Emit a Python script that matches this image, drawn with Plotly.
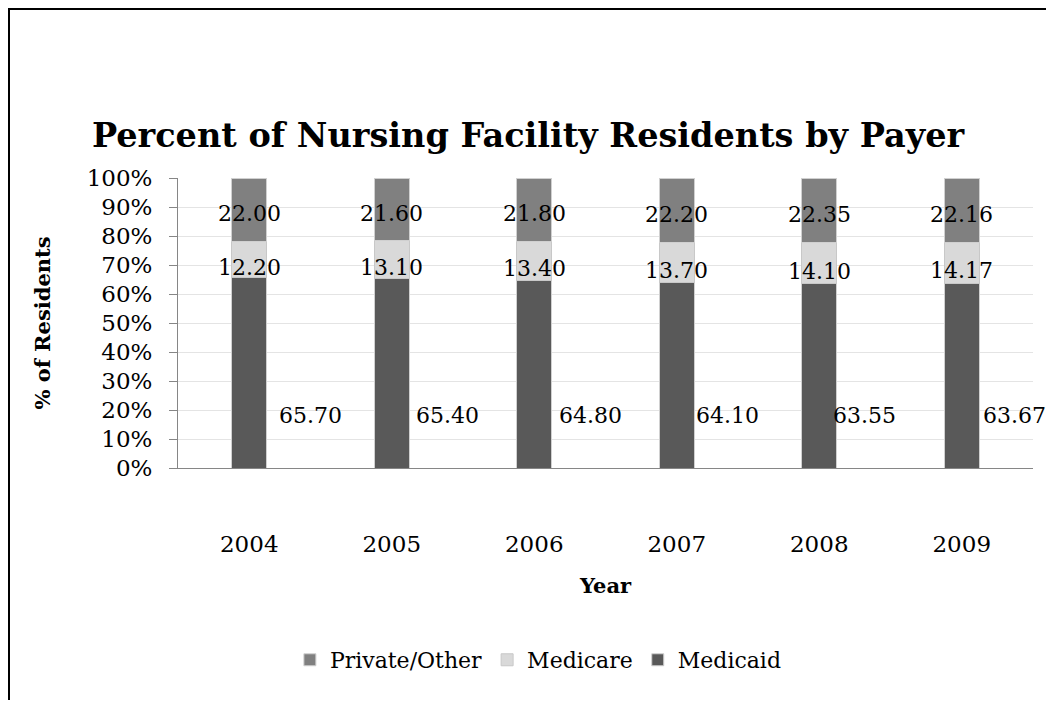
import plotly.graph_objects as go

years = ["2004", "2005", "2006", "2007", "2008", "2009"]
private_other = [22.00, 21.60, 21.80, 22.20, 22.35, 22.16]
medicare = [12.20, 13.10, 13.40, 13.70, 14.10, 14.17]
medicaid = [65.70, 65.40, 64.80, 64.10, 63.55, 63.67]

FONT = "DejaVu Serif"
GRAY_AXIS = "#868686"
LABEL_FONT = dict(family=FONT, size=22, color="black")
# Excel put the Medicaid labels beside the bars, each nudged a little differently
medicaid_label_shift = [61, 56, 56, 51, 45, 53]

fig = go.Figure()

# stacked bottom -> top: Medicaid, Medicare, Private/Other (100% stacked like Excel)
fig.add_trace(go.Bar(x=years, y=medicaid, name="Medicaid", marker_color="#595959",
                     marker_line=dict(color="#d0d0d0", width=1)))
fig.add_trace(go.Bar(x=years, y=medicare, name="Medicare", marker_color="#d9d9d9",
                     marker_line=dict(color="#c8c8c8", width=1)))
fig.add_trace(go.Bar(x=years, y=private_other, name="Private/Other", marker_color="#808080",
                     marker_line=dict(color="#d0d0d0", width=1)))

# data labels (values are normalised to 100% like the bars themselves)
for i in range(len(years)):
    total = medicaid[i] + medicare[i] + private_other[i]
    base_mc = medicaid[i] / total * 100
    mid_mc = base_mc + medicare[i] / total * 50
    mid_po = base_mc + medicare[i] / total * 100 + private_other[i] / total * 50
    fig.add_annotation(x=i, y=mid_po, text=f"{private_other[i]:.2f}", showarrow=False,
                       yshift=-4, font=LABEL_FONT)
    fig.add_annotation(x=i, y=mid_mc, text=f"{medicare[i]:.2f}", showarrow=False,
                       yshift=-8, font=LABEL_FONT)
    fig.add_annotation(x=i, y=18, text=f"{medicaid[i]:.2f}", showarrow=False,
                       xshift=medicaid_label_shift[i], font=LABEL_FONT)

fig.update_layout(
    barmode="stack",
    barnorm="percent",
    bargap=0.755,
    width=1038,
    height=692,
    margin=dict(l=170, r=13, t=170, b=232, autoexpand=False),
    paper_bgcolor="white",
    plot_bgcolor="white",
    font=dict(family=FONT, size=22, color="black"),
    title=dict(text="<b>Percent of Nursing Facility Residents by Payer</b>",
               x=0.501, xanchor="center", y=0.8165, yanchor="middle",
               font=dict(family=FONT, size=33.5, color="black")),
    legend=dict(orientation="h", x=0.4215, xanchor="center", y=-0.662, yanchor="middle",
                traceorder="reversed", font=dict(family=FONT, size=22), itemwidth=30),
    xaxis=dict(type="category", categoryorder="array", categoryarray=years,
               range=[-0.5, len(years) - 0.5], autorange=False,
               title=dict(text="<b>Year</b>", font=dict(family=FONT, size=21), standoff=22),
               showline=True, linecolor=GRAY_AXIS, linewidth=1, ticks="",
               tickfont=dict(family=FONT, size=23), ticklabelstandoff=55),
    yaxis=dict(title=dict(text="<b>% of Residents</b>", font=dict(family=FONT, size=21), standoff=30),
               range=[0, 100], dtick=10, ticksuffix="%",
               showgrid=True, gridcolor="#e4e4e4", gridwidth=1,
               showline=True, linecolor=GRAY_AXIS, linewidth=1,
               ticks="outside", ticklen=8, tickcolor=GRAY_AXIS,
               tickfont=dict(family=FONT, size=23), ticklabelstandoff=12, zeroline=False),
)

# outer chart border
fig.add_shape(type="rect", xref="paper", yref="paper",
              x0=(1 - 170) / 855, x1=1.2, y0=-1.5, y1=1 + 169 / 290,
              line=dict(color="black", width=2), fillcolor="rgba(0,0,0,0)", layer="below")

fig.write_html("out.html")
